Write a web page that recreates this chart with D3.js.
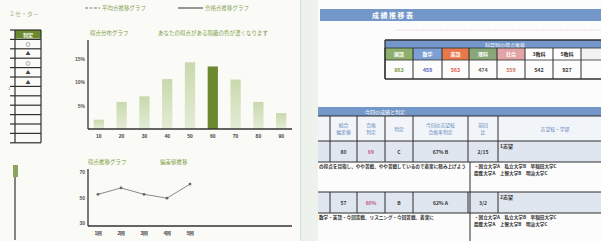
<!DOCTYPE html>
<html>
<head>
<meta charset="utf-8">
<script src="https://cdn.jsdelivr.net/npm/d3@7"></script>
<style>
  body { margin: 0; background: #fbfbf8; }
  svg { display: block; font-family: "Noto Sans CJK JP", "Noto Sans", sans-serif; }
</style>
</head>
<body>
<div id="chart"></div>
<script>
// values
const scoreBins = ["10", "20", "30", "40", "50", "60", "70", "80", "90"];
const binShares = [2.0, 5.8, 7.0, 10.7, 14.3, 13.4, 10.6, 5.8, 3.4];
const yourBin = "60";
const shareTicks = [5, 10, 15];

const rounds = ["1回", "2回", "3回", "4回", "5回"];
const deviation = [52.5, 57.5, 52.5, 49.5, 60.5];
const devTicks = [30, 50, 70];

const marks = ["判定", "◎", "▲", "◎", "▲", "▲", "", "", "", "", "", ""];

const subjects = ["国語", "数学", "英語", "理科", "社会", "3教科", "5教科", ""];
const subjectScores = ["863", "459", "563", "474", "559", "542", "927", ""];

const resultHeads = [["", ""], ["総合", "偏差値"], ["合格", "判定"], ["判定", ""], ["今回の志望校", "合格率判定"], ["前回", "比"], ["志望校・学部", ""]];
const resultRows = [
  ["", "80", "69", "C", "67% B", "2/15", "1志望"],
  ["", "57", "60%", "B", "62% A", "3/2", "2志望"]
];
const comments = [
  ["の得点を目指し、やや苦戦。やや苦戦しているので着実に積み上げよう", "・国立大学A　私立大学B　早稲田大学C", "慶應大学A　上智大学B　明治大学C"],
  ["数学・英語・今回苦戦。リスニング・今回苦戦。着実に", "・国立大学A　私立大学B　早稲田大学C", "慶應大学A　上智大学B　明治大学C"]
];

const width = 601, height = 241;
const green = "#7d9a3e", darkGreen = "#6b8a2f", blue = "#7397c8", ink = "#2f2f2f";

const svg = d3.select("#chart").append("svg")
  .attr("width", width).attr("height", height);

const defs = svg.append("defs");
const grad = defs.append("linearGradient").attr("id", "barFade").attr("x1", 0).attr("y1", 0).attr("x2", 0).attr("y2", 1);
grad.append("stop").attr("offset", "0%").attr("stop-color", "#c9d9ad");
grad.append("stop").attr("offset", "100%").attr("stop-color", "#e4ecd6");

// page backgrounds
svg.append("rect").attr("width", 300).attr("height", height).attr("fill", "#fafaf7");
svg.append("rect").attr("x", 300).attr("width", 18).attr("height", height).attr("fill", "#edf2ed");
svg.append("line").attr("x1", 300.5).attr("x2", 300.5).attr("y1", 0).attr("y2", height).attr("stroke", "#d8e0d8");
svg.append("rect").attr("x", 318).attr("width", width - 318).attr("height", height).attr("fill", "#fcfcfc");

// ---------- left page ----------
svg.append("text").attr("x", 9).attr("y", 16).text("１セ・タ－")
  .style("font-size", "6px").style("fill", "#9db57a");

// legend at the top
const legend = svg.append("g").style("font-size", "5.5px").style("fill", "#8aa35a");
legend.append("line").attr("x1", 85).attr("x2", 100).attr("y1", 8).attr("y2", 8)
  .attr("stroke", "#777").attr("stroke-width", 1.2).attr("stroke-dasharray", "3,1.5");
legend.append("text").attr("x", 102).attr("y", 10).text("平均点推移グラフ");
legend.append("line").attr("x1", 178).attr("x2", 203).attr("y1", 8).attr("y2", 8)
  .attr("stroke", "#555").attr("stroke-width", 1.2);
legend.append("text").attr("x", 205).attr("y", 10).text("合格点推移グラフ");

// small judgement table
const markRows = d3.range(marks.length).map(i => 30 + i * 9.4);
const markTable = svg.append("g");
markTable.append("rect").attr("x", 15).attr("y", 30).attr("width", 26).attr("height", 8.5).attr("fill", darkGreen);
markTable.selectAll("line.h").data(markRows.concat([30 + marks.length * 9.4]))
  .join("line").attr("class", "h")
  .attr("x1", 10).attr("x2", 41).attr("y1", d => d).attr("y2", d => d)
  .attr("stroke", ink).attr("stroke-width", 1.2);
[15, 41].forEach(x => markTable.append("line").attr("x1", x).attr("x2", x)
  .attr("y1", 30).attr("y2", 30 + marks.length * 9.4).attr("stroke", ink).attr("stroke-width", 1.2));
markTable.selectAll("text").data(marks).join("text")
  .attr("x", 28).attr("y", (d, i) => markRows[i] + 6.5)
  .attr("text-anchor", "middle")
  .style("font-size", "5px").style("font-weight", "bold")
  .style("fill", (d, i) => i === 0 ? "#fff" : "#444")
  .text(d => d);
svg.append("text").attr("x", 8).attr("y", 90).text("1").style("font-size", "4px").style("fill", "#777");

// bar chart
const bx = d3.scaleBand().domain(scoreBins).range([88, 292]).paddingInner(0.55).paddingOuter(0.25);
const by = d3.scaleLinear().domain([0, 15]).range([129, 59]);

svg.append("text").attr("x", 90).attr("y", 35).text("得点分布グラフ")
  .style("font-size", "5.5px").style("fill", green);
svg.append("text").attr("x", 158).attr("y", 35).text("あなたの得点がある階級の色が濃くなります")
  .style("font-size", "5.5px").style("fill", green);

svg.append("g").selectAll("rect").data(binShares).join("rect")
  .attr("x", (d, i) => bx(scoreBins[i]))
  .attr("y", d => by(d))
  .attr("width", bx.bandwidth())
  .attr("height", d => by(0) - by(d))
  .attr("fill", (d, i) => scoreBins[i] === yourBin ? darkGreen : "url(#barFade)");

const byAxis = svg.append("g").attr("transform", "translate(88,0)")
  .call(d3.axisLeft(by).tickValues(shareTicks).tickSize(0).tickPadding(3).tickFormat(d => d + "%"));
byAxis.select(".domain").remove();
byAxis.selectAll("text").style("font-size", "5px").style("font-weight", "bold").style("fill", "#555").style("font-family", "inherit");
svg.append("line").attr("x1", 88).attr("x2", 88).attr("y1", 40).attr("y2", 129).attr("stroke", "#333").attr("stroke-width", 1.3);

const bxAxis = svg.append("g").attr("transform", "translate(0,129)")
  .call(d3.axisBottom(bx).tickSize(0).tickPadding(5));
bxAxis.select(".domain").remove();
bxAxis.selectAll("text").style("font-size", "5px").style("font-weight", "bold").style("fill", "#444").style("font-family", "inherit");
svg.append("line").attr("x1", 88).attr("x2", 292).attr("y1", 129).attr("y2", 129).attr("stroke", "#333").attr("stroke-width", 1.6);

// lower-left block edge
svg.append("line").attr("x1", 15).attr("x2", 15).attr("y1", 165).attr("y2", 240).attr("stroke", "#444").attr("stroke-width", 1.3);
svg.append("rect").attr("x", 13).attr("y", 165).attr("width", 5).attr("height", 12).attr("fill", "#8da55c");

// line chart
const lx = d3.scalePoint().domain(rounds).range([98, 190]);
const ly = d3.scaleLinear().domain([30, 70]).range([223, 172]);

svg.append("text").attr("x", 88).attr("y", 164).text("得点推移グラフ")
  .style("font-size", "5.5px").style("fill", green);
svg.append("text").attr("x", 160).attr("y", 164).text("偏差値推移")
  .style("font-size", "5.5px").style("fill", green);

const lyAxis = svg.append("g").attr("transform", "translate(88,0)")
  .call(d3.axisLeft(ly).tickValues(devTicks).tickSize(0).tickPadding(3));
lyAxis.select(".domain").remove();
lyAxis.selectAll("text").style("font-size", "5px").style("font-weight", "bold").style("fill", "#555").style("font-family", "inherit");
svg.append("line").attr("x1", 88).attr("x2", 88).attr("y1", 169).attr("y2", 226).attr("stroke", "#333").attr("stroke-width", 1.3);

const lxAxis = svg.append("g").attr("transform", "translate(0,226)")
  .call(d3.axisBottom(lx).tickSize(0).tickPadding(5));
lxAxis.select(".domain").remove();
lxAxis.selectAll("text").style("font-size", "5px").style("font-weight", "bold").style("fill", "#444").style("font-family", "inherit");
svg.append("line").attr("x1", 88).attr("x2", 292).attr("y1", 226).attr("y2", 226).attr("stroke", "#333").attr("stroke-width", 1.6);

const line = d3.line().x((d, i) => lx(rounds[i])).y(d => ly(d));
svg.append("path").datum(deviation).attr("d", line)
  .attr("fill", "none").attr("stroke", "#8a8a8a").attr("stroke-width", 1);
svg.append("g").selectAll("circle").data(deviation).join("circle")
  .attr("cx", (d, i) => lx(rounds[i])).attr("cy", d => ly(d)).attr("r", 1.4).attr("fill", "#666");

// ---------- right page ----------
svg.append("rect").attr("x", 320).attr("y", 9).attr("width", width - 320).attr("height", 12).attr("fill", blue);
svg.append("text").attr("x", 372).attr("y", 18).text("成績推移表")
  .style("font-size", "7px").style("font-weight", "bold").style("fill", "#fff").style("letter-spacing", "1.5px");
svg.append("line").attr("x1", 395).attr("x2", width).attr("y1", 30).attr("y2", 30)
  .attr("stroke", "#f2d6d6").attr("stroke-width", 1).attr("stroke-dasharray", "2,1");

// subject score table
const sEdges = [385, 413, 442, 469, 497, 525, 553, 581, 610];
const subjFill = ["#8db06c", "#7e9fd3", "#e9794b", "#88a878", "#e2a4a4", "#fff", "#fff", "#f3f3f3"];
const subjText = ["#fff", "#fff", "#fff", "#fff", "#fff", "#333", "#333", "#333"];
const scoreColor = ["#7c9b45", "#5d6fc2", "#e0604c", "#666", "#d27a6a", "#444", "#444", "#444"];
const st = svg.append("g");
st.append("rect").attr("x", 385).attr("y", 40).attr("width", width - 385).attr("height", 8).attr("fill", blue);
st.append("text").attr("x", 505).attr("y", 46.5).attr("text-anchor", "middle").text("科目別の得点推移")
  .style("font-size", "5px").style("fill", "#fff");
st.selectAll("rect.subj").data(subjects).join("rect").attr("class", "subj")
  .attr("x", (d, i) => sEdges[i]).attr("y", 48).attr("width", (d, i) => sEdges[i + 1] - sEdges[i]).attr("height", 12)
  .attr("fill", (d, i) => subjFill[i]);
st.selectAll("text.subj").data(subjects).join("text").attr("class", "subj")
  .attr("x", (d, i) => (sEdges[i] + sEdges[i + 1]) / 2).attr("y", 56)
  .attr("text-anchor", "middle").text(d => d)
  .style("font-size", "5px").style("font-weight", "bold").style("fill", (d, i) => subjText[i]);
st.selectAll("text.score").data(subjectScores).join("text").attr("class", "score")
  .attr("x", (d, i) => (sEdges[i] + sEdges[i + 1]) / 2).attr("y", 71.5)
  .attr("text-anchor", "middle").text(d => d)
  .style("font-size", "5.5px").style("font-weight", "bold").style("fill", (d, i) => scoreColor[i]);
[40, 48, 60, 79].forEach(y => st.append("line").attr("x1", 385).attr("x2", width).attr("y1", y).attr("y2", y)
  .attr("stroke", ink).attr("stroke-width", y === 40 || y === 79 ? 1.3 : 0.8));
sEdges.slice(0, -1).forEach(x => st.append("line").attr("x1", x).attr("x2", x).attr("y1", 48).attr("y2", 79)
  .attr("stroke", ink).attr("stroke-width", 1));
st.append("line").attr("x1", 385).attr("x2", 385).attr("y1", 40).attr("y2", 79).attr("stroke", ink).attr("stroke-width", 1.3);

// result table
const rEdges = [318, 330, 357, 385, 413, 468, 498, 610];
const rt = svg.append("g");
rt.append("rect").attr("x", 318).attr("y", 107).attr("width", width - 318).attr("height", 9).attr("fill", blue);
rt.append("text").attr("x", 365).attr("y", 114).text("今回の成績と判定")
  .style("font-size", "5px").style("fill", "#fff");
rt.append("rect").attr("x", 318).attr("y", 116).attr("width", width - 318).attr("height", 25).attr("fill", "#f1f5fa");

resultHeads.forEach((h, i) => {
  const cx = (rEdges[i] + rEdges[i + 1]) / 2;
  const two = h[1] !== "";
  h.forEach((t, k) => rt.append("text")
    .attr("x", i === 6 ? 555 : cx).attr("y", two ? 127 + k * 7 : 131)
    .attr("text-anchor", "middle").text(t)
    .style("font-size", "4.8px").style("fill", "#5a7fb5"));
});

const rowTops = [141, 192];
resultRows.forEach((row, r) => {
  const y0 = rowTops[r];
  rt.append("rect").attr("x", 318).attr("y", y0).attr("width", width - 318).attr("height", 21).attr("fill", "#dfe6ef");
  row.forEach((v, i) => {
    if (i === 6) {
      rt.append("text").attr("x", 500).attr("y", y0 + 7).text(v)
        .style("font-size", "5px").style("font-weight", "bold").style("fill", "#333");
    } else {
      rt.append("text").attr("x", (rEdges[i] + rEdges[i + 1]) / 2).attr("y", y0 + 12.5)
        .attr("text-anchor", "middle").text(v)
        .style("font-size", "5px").style("font-weight", "bold").style("fill", i === 2 ? "#c0567a" : "#333");
    }
  });
  [y0, y0 + 21].forEach(y => rt.append("line").attr("x1", 318).attr("x2", width).attr("y1", y).attr("y2", y)
    .attr("stroke", ink).attr("stroke-width", 1.2));
  rEdges.slice(1, -1).forEach(x => rt.append("line").attr("x1", x).attr("x2", x)
    .attr("y1", r === 0 ? 116 : y0).attr("y2", y0 + 21).attr("stroke", ink).attr("stroke-width", 1));
  const c = comments[r];
  const note = s => s.style("font-size", "4.6px").style("font-weight", "bold").style("fill", "#333");
  rt.append("text").attr("x", 319).attr("y", y0 + 27).text(c[0]).call(note);
  rt.append("text").attr("x", 474).attr("y", y0 + 27).text(c[1]).call(note);
  rt.append("text").attr("x", 474).attr("y", y0 + 34).text(c[2]).call(note);
});
rt.append("line").attr("x1", 318).attr("x2", width).attr("y1", 116).attr("y2", 116).attr("stroke", ink).attr("stroke-width", 1.2);
rt.append("line").attr("x1", 470).attr("x2", 470).attr("y1", 162).attr("y2", 241).attr("stroke", ink).attr("stroke-width", 1);
</script>
</body>
</html>
